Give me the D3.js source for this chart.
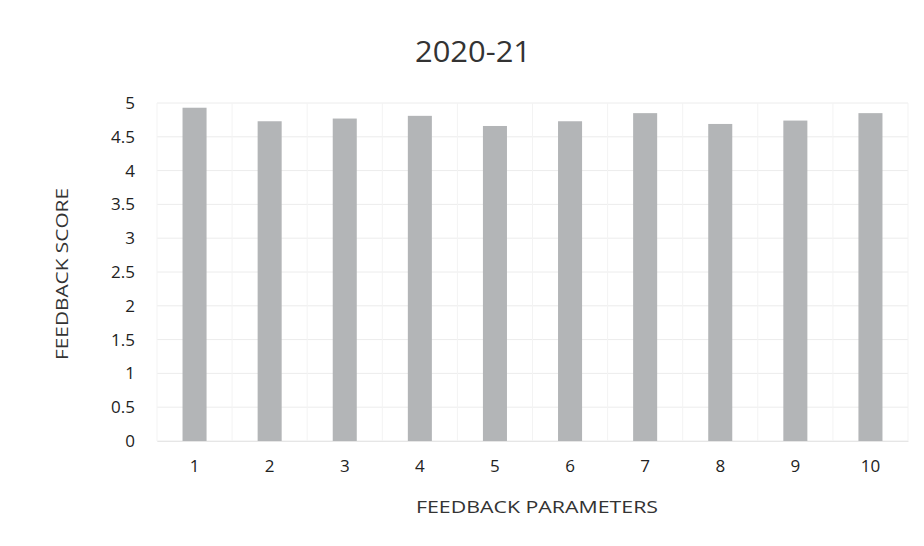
<!DOCTYPE html>
<html>
<head>
<meta charset="utf-8">
<script src="https://cdn.jsdelivr.net/npm/d3@7"></script>
<style>
html,body{margin:0;padding:0;background:#fff;}
svg{display:block;}
text{font-family:"Open Sans",sans-serif;}
</style>
</head>
<body>
<svg id="chart" width="924" height="546"></svg>
<script>
const categories = ["1","2","3","4","5","6","7","8","9","10"];
const scores = [4.93, 4.73, 4.77, 4.81, 4.66, 4.73, 4.85, 4.69, 4.74, 4.85];
const yTicks = [0, 0.5, 1, 1.5, 2, 2.5, 3, 3.5, 4, 4.5, 5];
const chartTitle = "2020-21";
const xTitle = "FEEDBACK PARAMETERS";
const yTitle = "FEEDBACK SCORE";

const svg = d3.select("#chart");
const W = 924, H = 546;
const margin = {left: 157, right: 16, top: 103, bottom: 105};
const innerW = W - margin.left - margin.right;
const innerH = H - margin.top - margin.bottom;
const FONT = "'Open Sans',sans-serif";

svg.append("rect").attr("width", W).attr("height", H).attr("fill", "#fff");

const x = d3.scaleBand().domain(categories).range([margin.left, margin.left + innerW]).paddingInner(0.68).paddingOuter(0.34);
const y = d3.scaleLinear().domain([0, 5]).range([margin.top + innerH, margin.top]);

// horizontal gridlines
svg.append("g").selectAll("line").data(yTicks).join("line")
  .attr("x1", margin.left).attr("x2", margin.left + innerW)
  .attr("y1", d => y(d)).attr("y2", d => y(d))
  .attr("stroke", "#ececec").attr("stroke-width", 1);

// faint vertical gridlines at band boundaries
const step = x.step();
svg.append("g").selectAll("line").data(d3.range(categories.length + 1)).join("line")
  .attr("x1", i => margin.left + i * step).attr("x2", i => margin.left + i * step)
  .attr("y1", margin.top).attr("y2", margin.top + innerH)
  .attr("stroke", "#f3f3f3").attr("stroke-width", 1);

// bars
svg.append("g").selectAll("rect").data(scores).join("rect")
  .attr("x", (d, i) => x(categories[i]))
  .attr("width", x.bandwidth())
  .attr("y", d => y(d))
  .attr("height", d => y(0) - y(d))
  .attr("fill", "#b3b5b7");

// y axis
const yAxis = d3.axisLeft(y).tickValues(yTicks).tickSize(0).tickPadding(22).tickFormat(d => d3.format("")(d));
const gy = svg.append("g").attr("transform", `translate(${margin.left},0)`).call(yAxis);
gy.select(".domain").remove();
gy.selectAll("text").attr("font-size", 17).attr("fill", "#222").attr("font-family", FONT);

// x axis
const xAxis = d3.axisBottom(x).tickSize(0).tickPadding(19);
const gx = svg.append("g").attr("transform", `translate(0,${margin.top + innerH})`).call(xAxis);
gx.select(".domain").attr("stroke", "#e6e6e6");
gx.selectAll("text").attr("font-size", 17).attr("fill", "#222").attr("font-family", FONT);

// titles
svg.append("text").attr("x", 473).attr("y", 62).attr("text-anchor", "middle")
  .attr("font-size", 29).attr("fill", "#333").attr("textLength", 116).attr("lengthAdjust", "spacingAndGlyphs").text(chartTitle);
svg.append("text").attr("x", 537).attr("y", 513).attr("text-anchor", "middle")
  .attr("font-size", 17).attr("fill", "#333").attr("textLength", 242).attr("lengthAdjust", "spacingAndGlyphs").text(xTitle);
svg.append("text").attr("transform", "translate(68,274) rotate(-90)").attr("text-anchor", "middle")
  .attr("font-size", 17).attr("fill", "#333").attr("textLength", 172).attr("lengthAdjust", "spacingAndGlyphs").text(yTitle);
</script>
</body>
</html>
